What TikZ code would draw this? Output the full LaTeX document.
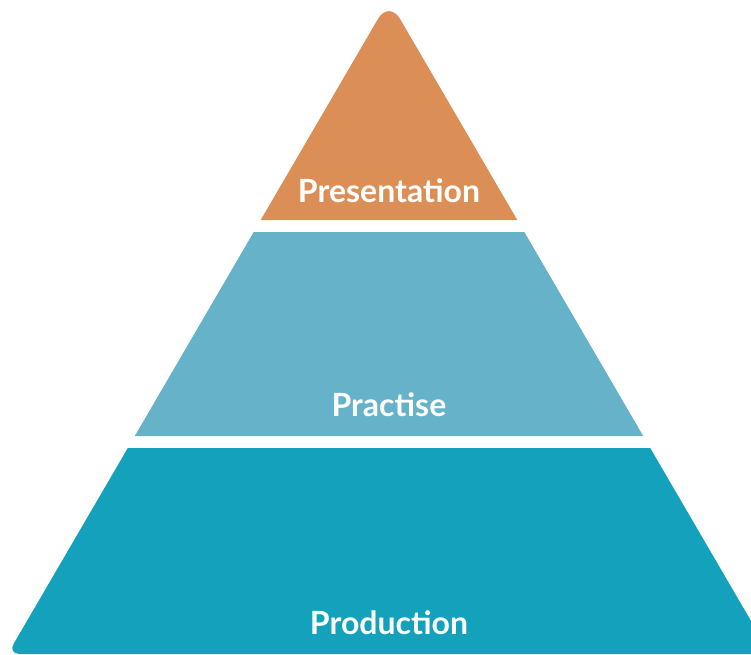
\documentclass[tikz,border=0pt]{standalone}
\usepackage{fontspec}
\setmainfont{Lato}
\definecolor{presorange}{HTML}{DB8F56}
\definecolor{praclblue}{HTML}{66B2C8}
\definecolor{prodteal}{HTML}{13A1BB}
\begin{document}
\begin{tikzpicture}[x=1pt,y=-1pt,
  lvl/.style={text=white,font=\fontsize{32}{38}\selectfont\bfseries,anchor=base}]
\useasboundingbox (0,0) rectangle (751,654);
\clip (0,0) rectangle (751,654);
% top triangle
\fill[presorange] (260.7,220) [rounded corners=22pt] -- (389,0) [sharp corners] -- (517.3,220) -- cycle;
% middle trapezoid
\fill[praclblue] (253.7,232) -- (524.3,232) -- (643.2,436) -- (134.8,436) -- cycle;
% bottom trapezoid
\fill[prodteal] (127.8,448) -- (650.2,448) -- (770.3,654) [rounded corners=12pt] -- (7.7,654) [sharp corners] -- cycle;
\node[lvl] (pres) at (389,202) {Presentation};
\node[lvl] (prac) at (389,416) {Practise};
\node[lvl] (prod) at (389,634) {Production};
\end{tikzpicture}
\end{document}
